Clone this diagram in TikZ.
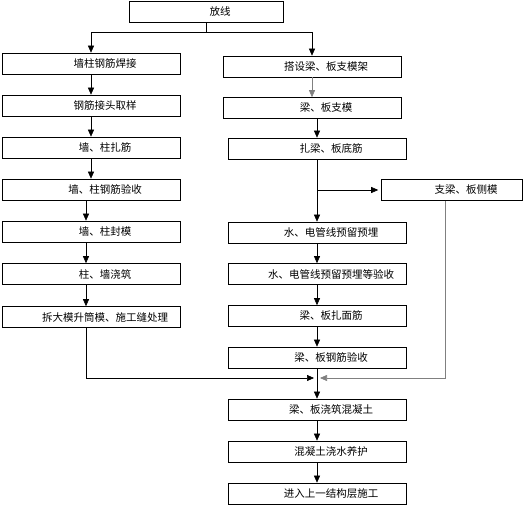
\documentclass[tikz,border=0pt]{standalone}
\usepackage{fontspec}
\newfontfamily\cjk{Noto Sans CJK SC}
\usepackage{tikz}
\usetikzlibrary{positioning,arrows.meta,calc}

\begin{document}
\begin{tikzpicture}[
  x=1pt, y=1pt,
  stage/.style={draw, line width=0.6pt, minimum width=178pt,
                minimum height=21pt, inner sep=0pt,
                font=\cjk\fontsize{10.5}{12}\selectfont,
                execute at begin node={\hspace*{28pt}}},
  flow/.style={->, line width=0.6pt},
  >={Triangle[length=7pt,width=6pt]}
]
  \useasboundingbox (0,0) rectangle (529,505);

  % Start
  \node[stage, minimum width=154pt] (fx) at (206,493.5) {放线};

  % Wall and column branch
  \node[stage] (L1) at (91,441.5) {墙柱钢筋焊接};
  \node[stage] (L2) at (91,399.5) {钢筋接头取样};
  \node[stage] (L3) at (91,357.5) {墙、柱扎筋};
  \node[stage] (L4) at (91,315.5) {墙、柱钢筋验收};
  \node[stage] (L5) at (91,273.5) {墙、柱封模};
  \node[stage] (L6) at (91,231) {柱、墙浇筑};
  \node[stage] (L7) at (91,188) {拆大模升筒模、施工缝处理};

  % Beam and slab branch
  \node[stage] (R1) at (312,438.5) {搭设梁、板支模架};
  \node[stage] (R2) at (312,397) {梁、板支模};
  \node[stage] (R3) at (317,356.5) {扎梁、板底筋};
  \node[stage, minimum width=141pt] (S) at (452,315) {支梁、板侧模};
  \node[stage] (R4) at (317,272.5) {水、电管线预留预埋};
  \node[stage] (R5) at (317,231) {水、电管线预留预埋等验收};
  \node[stage] (R6) at (317,189) {梁、板扎面筋};
  \node[stage] (R7) at (317,147.5) {梁、板钢筋验收};

  % Common part
  \node[stage] (R8) at (317,95.5) {梁、板浇筑混凝土};
  \node[stage] (R9) at (317,53.5) {混凝土浇水养护};
  \node[stage] (R10) at (317,11.5) {进入上一结构层施工};

  \coordinate (br) at ($(fx.south)+(0,-10)$);
  \coordinate (mg) at (317,127);

  % Connectors
  \draw[line width=0.6pt] (fx.south) -- (br);
  \draw[flow] (br) -| (L1.north);
  \draw[flow] (br) -| (R1.north);
  \foreach \a/\b in {L1/L2,L2/L3,L3/L4,R5/R6,R6/R7,R8/R9,R9/R10}
    \draw[flow] (\a) -- (\b);
  \foreach \a/\b in {L4/L5,L5/L6,L6/L7}
    \draw[flow] ([xshift=-5pt]\a.south) -- ([xshift=-5pt]\b.north);
  \draw[flow, gray] (R1) -- (R2);
  \draw[flow] (R2.south -| R3.south) -- (R3.north);
  \draw[flow] (R3) -- (R4);
  \draw[flow] (R4) -- (R5);
  \draw[flow] (R7) -- (R8);
  \draw[flow, shorten >=3pt] (R3.south |- S.west) -- (S.west);
  \draw[flow, gray] ([xshift=-7pt]S.south) |- ([xshift=3pt]mg);
  \draw[flow] ([xshift=-5pt]L7.south) |- ([xshift=-3pt]mg);
\end{tikzpicture}
\end{document}
